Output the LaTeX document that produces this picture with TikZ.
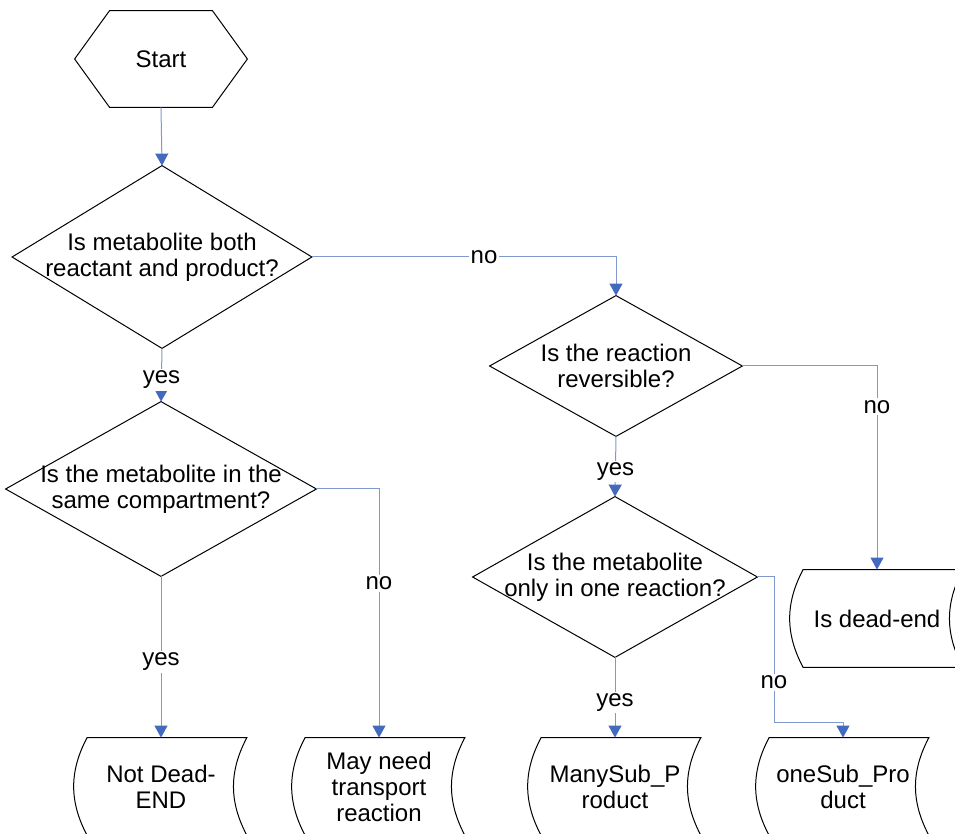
\documentclass[tikz,border=0pt]{standalone}
\usepackage{fontspec}
\setmainfont{Liberation Sans}
\usetikzlibrary{arrows.meta}

\definecolor{linkblue}{RGB}{128,152,208}
\definecolor{tipblue}{RGB}{68,106,190}

\tikzset{
  txt/.style={font=\fontsize{12}{13}\selectfont, align=center},
  decision/.style={txt, inner sep=0pt},
  term/.style={txt, minimum width=79.5pt, minimum height=48.5pt, inner sep=0pt},
  link/.style={draw=linkblue, line width=0.5pt, -{Triangle[width=6.5pt,length=6pt,color=tipblue]}},
  lab/.style={txt, fill=white, inner sep=1pt},
  yeslab/.style={lab, yshift=-2.5pt}
}

\begin{document}
\begin{tikzpicture}[x=0.5pt, y=-0.5pt]

%% Fixed frame to keep the margins
\useasboundingbox (0,0) rectangle (955,834);

%% Start
\node[txt, minimum width=86pt, minimum height=48pt, inner sep=0pt] (start) at (161,59) {Start};
\draw[line width=0.5pt] (start.west) -- ([xshift=17.5pt]start.north west) -- ([xshift=-17.5pt]start.north east)
  -- (start.east) -- ([xshift=-17.5pt]start.south east) -- ([xshift=17.5pt]start.south west) -- cycle;

%% Decisions
\node[decision, minimum width=149.5pt, minimum height=91pt] (both) at (162,257) {Is metabolite both\\reactant and product?};
\node[decision, minimum width=155pt, minimum height=87pt] (comp) at (161,489) {Is the metabolite in the\\same compartment?};
\node[decision, minimum width=126pt, minimum height=70pt] (rev) at (616,366) {Is the reaction\\reversible?};
\node[decision, minimum width=142pt, minimum height=80pt] (onerx) at (615,577) {Is the metabolite\\only in one reaction?};

\foreach \n in {both,comp,rev,onerx}{
  \draw[line width=0.5pt] (\n.north) -- (\n.east) -- (\n.south) -- (\n.west) -- cycle;
}

%% Ends
\node[term] (notde) at (161,786.5) {Not Dead-\\END};
\node[term] (trans) at (379,786.5) {May need\\transport\\reaction};
\node[term] (many) at (615,786.5) {ManySub\_P\\roduct};
\node[term] (one) at (843,786.5) {oneSub\_Pro\\duct};
\node[term] (dead) at (877,618.5) {Is dead-end};

\foreach \n in {notde,trans,many,one,dead}{
  \draw[line width=0.5pt] ([xshift=3pt]\n.north west) to[bend right=28] ([xshift=3pt]\n.south west)
    -- ([xshift=3pt]\n.south east) to[bend left=28] ([xshift=3pt]\n.north east) -- cycle;
}

%% Connectors
\coordinate (jog) at (774,723);

\draw[link] (start.south) -- (both.north);
\draw[link] (both.east) -| node[lab, pos=0.283]{no} (rev.north);
\draw[link] (both.south) -- node[yeslab]{yes} (comp.north);
\draw[link] (comp.south) -- node[yeslab]{yes} (notde.north);
\draw[link] (comp.east) -| node[lab, pos=0.69]{no} (trans.north);
\draw[link] (rev.east) -| node[lab, pos=0.6]{no} (dead.north);
\draw[link] (rev.south) -- node[yeslab]{yes} (onerx.north);
\draw[link] (onerx.south) -- node[yeslab]{yes} (many.north);
\draw[link] (onerx.east) -| node[lab, pos=0.86]{no} (jog) -| (one.north);

\end{tikzpicture}
\end{document}
